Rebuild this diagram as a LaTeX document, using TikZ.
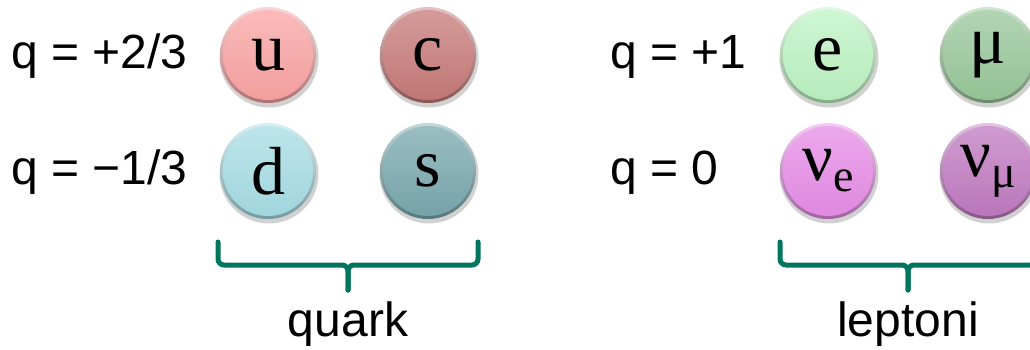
\documentclass[tikz,border=0pt]{standalone}
\usepackage{fontspec}
\setmainfont{Liberation Sans}
\newfontfamily\serifball{Liberation Serif}
\usetikzlibrary{positioning}
\definecolor{upink}{RGB}{249,163,163}
\definecolor{cred}{RGB}{198,122,120}
\definecolor{dcyan}{RGB}{166,220,228}
\definecolor{steal}{RGB}{121,168,174}
\definecolor{egreen}{RGB}{189,243,195}
\definecolor{mugreen}{RGB}{153,199,154}
\definecolor{nuepink}{RGB}{230,140,230}
\definecolor{numupurple}{RGB}{192,122,192}
\definecolor{braceteal}{RGB}{0,118,95}
\tikzset{
  charge/.style={anchor=base west,font=\fontsize{24}{24}\selectfont,inner sep=0pt},
  family/.style={font=\fontsize{24}{24}\selectfont,inner sep=0pt},
  ballnode/.style={circle,minimum size=48pt,inner sep=0pt,font=\serifball\fontsize{34}{34}\selectfont},
  brace/.style={braceteal,line width=2.5pt,line cap=round,rounded corners=3pt}
}
\newcommand{\ball}[5]{%
  \fill[black!40,opacity=0.45] (#2+1,#3-3) circle (49.5);
  \shade[top color=#4!45!white,bottom color=#4!70!black] (#2,#3) circle (48);
  \shade[top color=#4!75!white,bottom color=#4!97!black] (#2,#3) circle (45);
  \node[ballnode] (#1) at (#2,#3) {#5};%
}
\newcommand{\sub}[1]{\raisebox{-0.35ex}{\fontsize{23}{23}\selectfont #1}}

\begin{document}
\begin{tikzpicture}[x=0.5pt,y=0.5pt]
  \clip (0,0) rectangle (1030,349);

  \ball{u}{268}{294}{upink}{u}
  \ball{c}{428}{294}{cred}{c}
  \ball{d}{268}{178}{dcyan}{d}
  \ball{s}{428}{178}{steal}{s}

  \ball{e}{828}{294}{egreen}{e}
  \ball{mu}{988}{294}{mugreen}{μ}
  \ball{nue}{828}{178}{nuepink}{ν\sub{e}}
  \ball{numu}{988}{178}{numupurple}{ν\sub{μ}}

  \node[charge] (qup) at (11,280) {q = +2/3};
  \node[charge] (qdown) at (11,164) {q = −1/3};
  \node[charge] (qlep) at (610,280) {q = +1};
  \node[charge] (qnu) at (610,164) {q = 0};

  \coordinate (qkL) at (218,107);
  \coordinate (qkR) at (478,107);
  \coordinate (qkTip) at (348,59);
  \draw[brace] (qkL) |- (qkTip |- 0,84) -- (qkTip);
  \draw[brace] (qkR) |- (qkTip |- 0,84) -- (qkTip);
  \node[family,anchor=base] (quark) at (348,13) {quark};

  \coordinate (lpL) at (780,107);
  \coordinate (lpR) at (1036,107);
  \coordinate (lpTip) at (908,59);
  \draw[brace] (lpL) |- (lpTip |- 0,84) -- (lpTip);
  \draw[brace] (lpR) |- (lpTip |- 0,84) -- (lpTip);
  \node[family,anchor=base] (leptoni) at (908,13) {leptoni};
\end{tikzpicture}
\end{document}
